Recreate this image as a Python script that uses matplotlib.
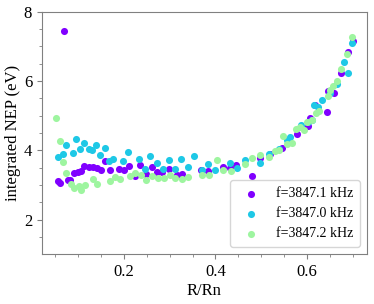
import numpy as np
import matplotlib
matplotlib.use("Agg")
import matplotlib.pyplot as plt

# readings, one array pair per frequency
labels = ["f=3847.1 kHz", "f=3847.0 kHz", "f=3847.2 kHz"]
colors = ["#8000ff", "#1ec8e6", "#9ef5a0"]

x_a = [0.055, 0.061, 0.069, 0.077, 0.083, 0.091, 0.099, 0.106, 0.113, 0.123,
       0.132, 0.141, 0.150, 0.159, 0.170, 0.190, 0.201, 0.212, 0.225, 0.236,
       0.248, 0.261, 0.272, 0.283, 0.299, 0.316, 0.328, 0.369, 0.383, 0.416,
       0.432, 0.446, 0.479, 0.497, 0.520, 0.545, 0.560, 0.579, 0.603, 0.607,
       0.618, 0.643, 0.647, 0.660, 0.674, 0.690, 0.701]
y_a = [3.11, 3.06, 7.45, 3.15, 3.13, 3.34, 3.38, 3.39, 3.54, 3.52,
       3.52, 3.49, 3.42, 3.68, 3.42, 3.47, 3.42, 3.54, 3.25, 3.57,
       3.32, 3.52, 3.37, 3.37, 3.46, 3.30, 3.32, 3.44, 3.40, 3.52,
       3.50, 3.57, 3.26, 3.79, 3.90, 4.08, 4.30, 4.48, 4.70, 4.92,
       5.30, 5.11, 5.70, 5.67, 6.22, 6.85, 7.16]

x_b = [0.055, 0.068, 0.074, 0.089, 0.096, 0.103, 0.112, 0.123, 0.130, 0.139,
       0.148, 0.158, 0.167, 0.176, 0.199, 0.210, 0.233, 0.247, 0.258, 0.272,
       0.285, 0.298, 0.312, 0.325, 0.340, 0.354, 0.370, 0.384, 0.400, 0.432,
       0.448, 0.465, 0.497, 0.516, 0.539, 0.557, 0.564, 0.586, 0.603, 0.610,
       0.616, 0.625, 0.632, 0.650, 0.665, 0.682, 0.690, 0.698]
y_b = [3.81, 3.90, 4.14, 3.93, 4.32, 4.03, 4.21, 4.04, 4.00, 4.14,
       3.85, 4.08, 3.69, 3.75, 3.68, 3.94, 3.76, 3.45, 3.83, 3.63,
       3.47, 3.73, 3.47, 3.76, 3.52, 3.83, 3.44, 3.61, 3.42, 3.63,
       3.50, 3.71, 3.63, 3.90, 4.05, 4.29, 4.37, 4.74, 4.82, 4.87,
       5.30, 5.26, 5.46, 5.66, 5.91, 6.56, 6.22, 7.11]

x_c = [0.052, 0.061, 0.068, 0.074, 0.084, 0.092, 0.101, 0.106, 0.114, 0.132,
       0.141, 0.170, 0.180, 0.191, 0.214, 0.225, 0.237, 0.249, 0.261, 0.274,
       0.287, 0.301, 0.312, 0.327, 0.341, 0.371, 0.386, 0.403, 0.417, 0.433,
       0.465, 0.479, 0.497, 0.516, 0.530, 0.539, 0.547, 0.557, 0.567, 0.577,
       0.585, 0.594, 0.601, 0.610, 0.620, 0.627, 0.647, 0.650, 0.658, 0.666,
       0.674, 0.687, 0.699]
y_c = [4.94, 4.27, 3.66, 3.34, 3.03, 2.92, 2.96, 2.86, 2.99, 3.17,
       3.03, 3.11, 3.23, 3.18, 3.25, 3.34, 3.28, 3.15, 3.26, 3.21,
       3.21, 3.30, 3.21, 3.16, 3.23, 3.28, 3.28, 3.71, 3.42, 3.39,
       3.61, 3.79, 3.86, 3.81, 3.98, 4.02, 4.41, 4.19, 4.21, 4.63,
       4.66, 4.60, 4.82, 4.87, 5.08, 5.14, 5.57, 5.74, 5.86, 6.01,
       6.34, 6.77, 7.26]

plt.rcParams['font.family'] = ['Liberation Serif', 'DejaVu Serif']

fig = plt.figure(figsize=(3.74, 3.04), dpi=100)
ax = fig.add_axes([0.112, 0.164, 0.869, 0.797])

for xs, ys, c, lab in zip([x_a, x_b, x_c], [y_a, y_b, y_c], colors, labels):
    ax.scatter(xs, ys, s=26, color=c, label=lab, linewidths=0)

ax.set_xlim(0.0208, 0.731)
ax.set_ylim(1, 8)
ax.set_xticks([0.2, 0.4, 0.6])
ax.set_xticks(np.arange(0.05, 0.73, 0.05), minor=True)
ax.set_yticks([2, 4, 6, 8])
ax.set_yticks(np.arange(1.5, 8, 0.5), minor=True)

# gray frame and ticks, black labels
for sp in ax.spines.values():
    sp.set_color('#808080')
ax.tick_params(which='both', colors='#808080', labelcolor='black', labelsize=12)

ax.set_xlabel("R/Rn", fontsize=12, labelpad=2)
ax.set_ylabel("integrated NEP (eV)", fontsize=12, labelpad=2)

ax.legend(loc='lower right', fontsize=10, handletextpad=0.8, borderpad=0.5)

fig.savefig("out.png", dpi=100)
